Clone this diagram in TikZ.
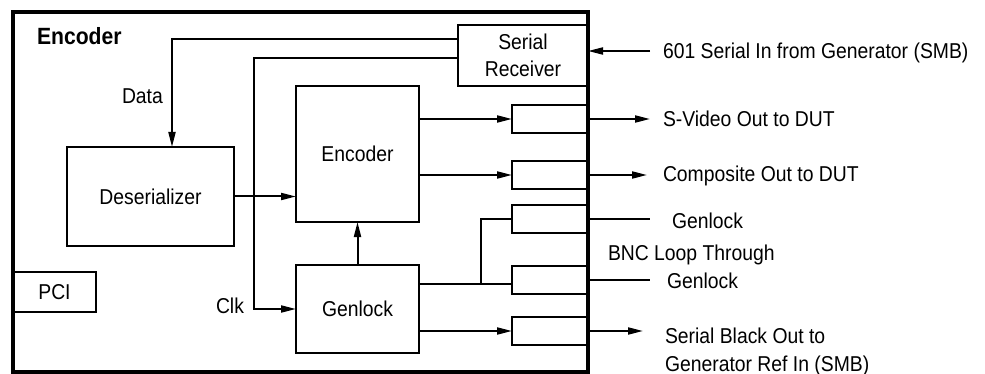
\documentclass[tikz,border=0pt]{standalone}
\usepackage{fontspec}
\setmainfont{Liberation Sans}[FakeStretch=0.9]
\usetikzlibrary{arrows.meta,calc}
\begin{document}
\begin{tikzpicture}[x=1pt,y=-1pt,
  txt/.style={font=\fontsize{21.5}{27}\selectfont},
  box/.style={draw,line width=2pt,inner sep=0pt,outer sep=0pt,align=center,txt},
  conn/.style={box,minimum width=76pt,minimum height=28pt},
  wire/.style={line width=2pt},
  arr/.style={wire,-{Triangle[length=15pt,width=7pt]}},
  lbl/.style={inner sep=0pt,outer sep=0pt,anchor=base west,txt}]
\useasboundingbox (0,0) rectangle (985,374);
\fill[white] (0,0) rectangle (985,374);
% outer frame
\node[draw,line width=3.5pt,inner sep=0pt,outer sep=0pt,minimum width=575pt,minimum height=360pt] (outer) at (300.5,192) {};
\node[lbl,font=\fontsize{23.5}{28}\selectfont\bfseries] (title) at (37,45) {Encoder};
% blocks
\node[box,minimum width=130pt,minimum height=61pt] (sr) at (523,55.5) {Serial\\Receiver};
\node[box,minimum width=167pt,minimum height=99pt] (des) at (150.5,196.5) {Deserializer};
\node[box,minimum width=123pt,minimum height=136pt] (enc) at (357.5,154) {Encoder};
\node[box,minimum width=123pt,minimum height=88pt] (gen) at (357.5,309) {Genlock};
\node[box,minimum width=83pt,minimum height=40pt] (pci) at (54.5,292) {PCI};
% connector boxes
\node[conn] (b1) at (550,119) {};
\node[conn] (b2) at (550,175) {};
\node[conn] (b3) at (550,219) {};
\node[conn] (b4) at (550,279.5) {};
\node[conn] (b5) at (550,331) {};
% internal labels
\node[lbl] (data) at (122,104) {Data};
\node[lbl] (clk) at (216,313) {Clk};
% internal wires
\draw[arr] ([yshift=16.5pt]sr.west) -| ([xshift=21.5pt]des.north);
\draw[arr] ([yshift=-2.5pt]sr.west) -| ($(gen.west)+(-42,0)$) -- (gen.west);
\draw[arr] (des.east) -- (des.east -| enc.west);
\draw[arr] (gen.north) -- (enc.south);
\draw[arr] (enc.east |- b1.west) -- (b1.west);
\draw[arr] (enc.east |- b2.west) -- (b2.west);
\coordinate (gl) at ([yshift=25pt]gen.east);
\draw[wire] (gl) -- (gl -| b4.west);
\coordinate (br) at (481,284);
\draw[wire] (br) |- (b3.west);
\draw[arr] (gen.east |- b5.west) -- (b5.west);
% external connections
\coordinate (e601) at (650,51);
\coordinate (esv) at (650,119);
\coordinate (ecp) at (647,175);
\coordinate (eg1) at (650,219);
\coordinate (eg2) at (650,279.5);
\coordinate (esb) at (643,331);
\draw[arr] (e601) -- (e601 -| outer.east);
\draw[arr] (b1.east) -- (esv);
\draw[arr] (b2.east) -- (ecp);
\draw[wire] (b3.east) -- (eg1);
\draw[wire] (b4.east) -- (eg2);
\draw[arr] (b5.east) -- (esb);
% external labels
\node[lbl] (t601) at (663,59) {601 Serial In from Generator (SMB)};
\node[lbl] (tsv) at (663,127) {S-Video Out to DUT};
\node[lbl] (tcp) at (663,182) {Composite Out to DUT};
\node[lbl] (tg1) at (672,229) {Genlock};
\node[lbl] (tbnc) at (608,260) {BNC Loop Through};
\node[lbl] (tg2) at (667,288) {Genlock};
\node[lbl] (tsb1) at (665,343) {Serial Black Out to};
\node[lbl] (tsb2) at (665,371) {Generator Ref In (SMB)};
\end{tikzpicture}
\end{document}
